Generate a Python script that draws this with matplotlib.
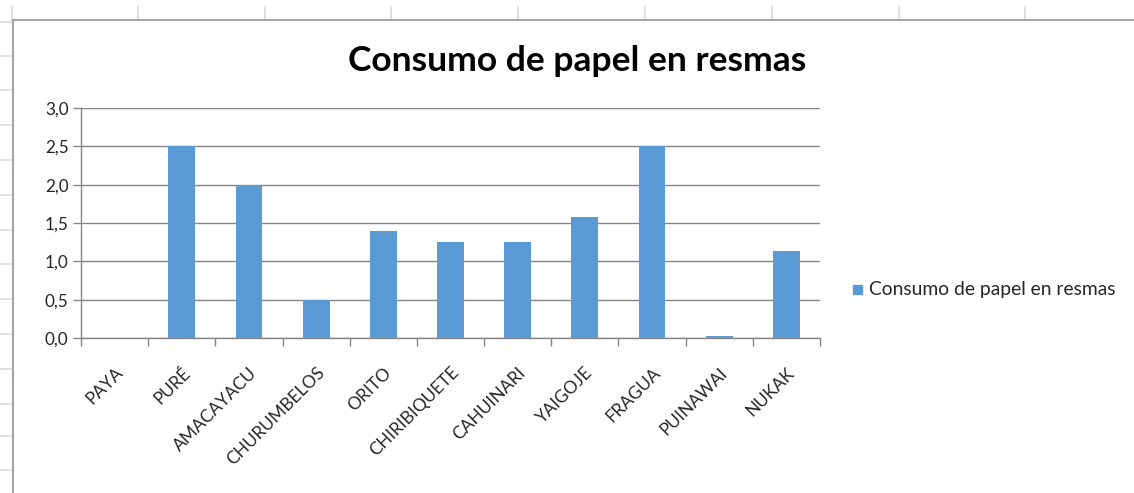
import matplotlib
matplotlib.use("Agg")
import matplotlib.pyplot as plt
from matplotlib.lines import Line2D
from matplotlib.patches import Rectangle
from matplotlib.ticker import FixedLocator, FuncFormatter
from matplotlib.transforms import ScaledTranslation

plt.rcParams['font.family'] = ['Lato', 'DejaVu Sans']

categories = ["PAYA", "PURÉ", "AMACAYACU", "CHURUMBELOS", "ORITO", "CHIRIBIQUETE",
              "CAHUINARI", "YAIGOJE", "FRAGUA", "PUINAWAI", "NUKAK"]
values = [0.0, 2.5, 2.0, 0.5, 1.4, 1.25, 1.25, 1.58, 2.5, 0.02, 1.13]
series_name = "Consumo de papel en resmas"
title = "Consumo de papel en resmas"

W, H = 1134, 493
fig = plt.figure(figsize=(W / 100, H / 100), dpi=100)
fig.patch.set_facecolor("white")

def fx(px):
    return px / W

def fy(py):
    return 1 - py / H

# worksheet frame around the chart object
sheet_col = "#D4DAE6"
for x in [12, 138, 265, 391, 518, 645, 772, 899, 1025]:
    fig.add_artist(Line2D([fx(x), fx(x)], [fy(7), fy(20)], color=sheet_col, lw=1.2))
for y in [22, 56, 90, 125, 160, 195, 230, 264, 299, 334, 369, 404, 436, 470]:
    fig.add_artist(Line2D([fx(0), fx(11)], [fy(y), fy(y)], color=sheet_col, lw=1.2))
fig.add_artist(Line2D([fx(13), fx(W)], [fy(20), fy(20)], color="#A5A5A5", lw=1.5))
fig.add_artist(Line2D([fx(13), fx(13)], [fy(20), fy(H)], color="#A5A5A5", lw=1.5))

# plot area
x0, x1, ytop, ybot = 81, 820, 108, 338
ax = fig.add_axes([fx(x0), fy(ybot), fx(x1) - fx(x0), fy(ytop) - fy(ybot)])
bar_color = "#5B9BD5"
grid_col = "#868686"
text_col = "#262626"

xs = list(range(len(categories)))
ax.bar(xs, values, width=0.4, color=bar_color, zorder=3, label=series_name)
ax.set_xlim(-0.5, len(categories) - 0.5)
ax.set_ylim(0, 3.0)

ax.yaxis.set_major_locator(FixedLocator([0, 0.5, 1.0, 1.5, 2.0, 2.5, 3.0]))
ax.yaxis.set_major_formatter(FuncFormatter(lambda v, p: f"{v:.1f}".replace(".", ",")))
ax.grid(axis="y", color=grid_col, lw=1.0, zorder=0)

# category boundaries as tick marks, labels centred on bars
ax.set_xticks([i - 0.5 for i in range(len(categories) + 1)])
ax.set_xticklabels([])
ax.set_xticks(xs, minor=True)
ax.set_xticklabels(categories, minor=True, rotation=45, ha="right",
                   rotation_mode="anchor", fontsize=12.5, color=text_col)
shift = ScaledTranslation(3 / 100, 0, fig.dpi_scale_trans)
for lbl in ax.get_xticklabels(minor=True):
    lbl.set_transform(lbl.get_transform() + shift)
ax.tick_params(axis="x", which="minor", length=0, pad=19)
ax.tick_params(axis="x", which="major", length=6, width=1, color=grid_col)
ax.tick_params(axis="y", length=6, width=1, color=grid_col, labelsize=12.3,
               labelcolor=text_col, pad=3)

for s in ["top", "right"]:
    ax.spines[s].set_visible(False)
for s in ["left", "bottom"]:
    ax.spines[s].set_color(grid_col)
    ax.spines[s].set_linewidth(1.0)

fig.text(fx(577), fy(61), title, ha="center", va="center",
         fontsize=25.5, fontweight="bold", color="black")

# legend
fig.add_artist(Rectangle((fx(853), fy(294)), fx(9), fy(285) - fy(294),
                         color=bar_color, transform=fig.transFigure))
fig.text(fx(869), fy(289), series_name, ha="left", va="center",
         fontsize=13.9, color=text_col)

fig.savefig("out.png", dpi=100, facecolor="white")
